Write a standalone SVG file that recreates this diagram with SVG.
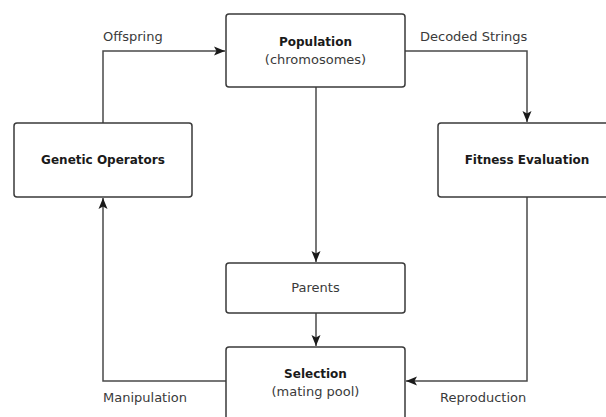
<svg xmlns="http://www.w3.org/2000/svg" width="606" height="417" viewBox="0 0 606 417">
<style>
.box{fill:#fff;stroke:#3a3a3a;stroke-width:1.5}
.b{font-family:"DejaVu Sans",sans-serif;font-weight:bold;font-size:12px;fill:#1a1a1a}
.r{font-family:"DejaVu Sans",sans-serif;font-size:13px;fill:#3a3a3a}
.c{stroke:#4a4a4a;stroke-width:1.5;fill:none;marker-end:url(#ah)}
</style>
<defs>
<marker id="ah" markerWidth="12" markerHeight="10" refX="11" refY="5" orient="auto" markerUnits="userSpaceOnUse">
<path d="M0,0.5 L11,5 L0,9.5 L2.5,5 Z" fill="#1a1a1a"/>
</marker>
</defs>
<rect width="606" height="417" fill="#fff"/>
<g id="connectors">
<polyline class="c" points="103,123 103,51 225,51"/>
<polyline class="c" points="405,51 527,51 527,122"/>
<polyline class="c" points="316,87 316,262"/>
<polyline class="c" points="316,313 316,346"/>
<polyline class="c" points="527,197 527,381 406,381"/>
<polyline class="c" points="226,381 103,381 103,198"/>
<text class="r" x="103" y="41">Offspring</text>
<text class="r" x="420" y="41">Decoded Strings</text>
<text class="r" x="103" y="402">Manipulation</text>
<text class="r" x="440" y="402">Reproduction</text>
</g>
<g id="population">
<rect class="box" x="226" y="14" width="179" height="73" rx="3"/>
<text class="b" x="315.5" y="46" text-anchor="middle">Population</text>
<text class="r" x="315.5" y="64" text-anchor="middle">(chromosomes)</text>
</g>
<g id="genetic-operators">
<rect class="box" x="14" y="123" width="178" height="74" rx="3"/>
<text class="b" x="103" y="164" text-anchor="middle">Genetic Operators</text>
</g>
<g id="fitness-evaluation">
<rect class="box" x="438" y="123" width="178" height="74" rx="3"/>
<text class="b" x="527" y="164" text-anchor="middle">Fitness Evaluation</text>
</g>
<g id="parents">
<rect class="box" x="226" y="263" width="179" height="50" rx="3"/>
<text class="r" x="315.5" y="292" text-anchor="middle">Parents</text>
</g>
<g id="selection">
<rect class="box" x="226" y="347" width="179" height="80" rx="3"/>
<text class="b" x="315.5" y="378" text-anchor="middle">Selection</text>
<text class="r" x="315.5" y="396" text-anchor="middle">(mating pool)</text>
</g>
</svg>
